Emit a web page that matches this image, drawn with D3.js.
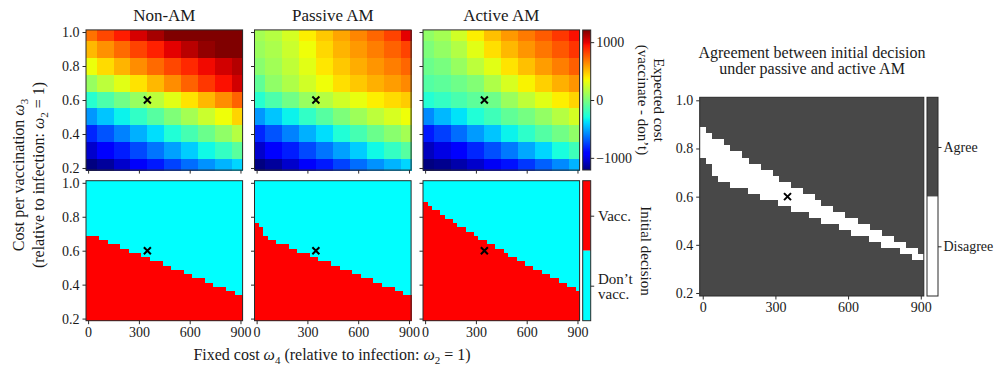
<!DOCTYPE html>
<html><head><meta charset="utf-8">
<script src="https://cdn.jsdelivr.net/npm/d3@7"></script>
<style>body{margin:0;background:#fff}svg{display:block}text{font-family:"Liberation Serif",serif;fill:#1a1a1a}</style>
</head><body>
<script>
// ---------- DATA ----------
const panelTitles = ["Non-AM", "Passive AM", "Active AM"];
const xTicks = [0, 300, 600, 900];
const yTicks = [0.2, 0.4, 0.6, 0.8, 1.0];
const costTicks = [-1000, 0, 1000];
// coarse grid of expected cost (vaccinate - don't)
const gridX = [0, 100, 200, 300, 400, 500, 600, 700, 800, 900];
const gridY = [1.0, 0.9, 0.8, 0.7, 0.6, 0.5, 0.4, 0.3, 0.2];
const costNonAM = [
  [700, 810, 920, 1030, 1130, 1230, 1300, 1350, 1400, 1400],
  [520, 620, 720, 820, 910, 1000, 1090, 1170, 1230, 1280],
  [330, 430, 530, 630, 720, 810, 890, 970, 1040, 1100],
  [80, 190, 300, 410, 520, 630, 740, 850, 950, 1040],
  [-250, -140, -30, 80, 190, 300, 410, 520, 630, 740],
  [-550, -440, -330, -220, -110, 10, 120, 230, 340, 450],
  [-820, -710, -600, -490, -380, -270, -160, -50, 60, 170],
  [-1050, -945, -840, -735, -630, -525, -420, -315, -210, -100],
  [-1250, -1150, -1050, -950, -850, -750, -650, -560, -480, -400]
];
const costPassive = [
  [120, 170, 260, 380, 480, 570, 650, 730, 820, 1000],
  [90, 140, 230, 340, 440, 530, 600, 670, 740, 820],
  [40, 110, 200, 300, 400, 480, 550, 610, 670, 730],
  [-80, 60, 150, 250, 340, 420, 480, 540, 590, 640],
  [-250, -140, -30, 80, 170, 250, 320, 380, 430, 470],
  [-550, -440, -330, -220, -110, 5, 100, 190, 270, 340],
  [-820, -710, -600, -490, -380, -270, -160, -50, 40, 120],
  [-1050, -945, -840, -735, -630, -525, -420, -315, -210, -110],
  [-1250, -1150, -1050, -950, -850, -750, -650, -560, -480, -400]
];
const costActive = [
  [60, 120, 250, 380, 500, 600, 680, 760, 850, 950],
  [5, 70, 160, 300, 420, 520, 610, 690, 770, 860],
  [-50, -10, 80, 190, 300, 410, 500, 590, 670, 750],
  [-120, -90, -40, 20, 150, 270, 370, 460, 540, 610],
  [-260, -210, -150, -90, -40, 90, 200, 300, 380, 450],
  [-580, -470, -370, -270, -180, -80, -20, 70, 170, 260],
  [-850, -760, -650, -540, -440, -330, -230, -120, -30, 60],
  [-1080, -1000, -920, -820, -720, -620, -510, -400, -290, -180],
  [-1230, -1180, -1120, -1050, -960, -870, -780, -680, -580, -480]
];
// decision grid columns and highest "vaccinate" cell per column
const decisionX = [0,25,50,75,100,125,150,175,200,225,250,275,300,325,350,375,400,425,450,475,500,525,550,575,600,625,650,675,700,725,750,775,800,825,850,875,900];
const vaccTopNonAM = [0.675,0.675,0.675,0.65,0.65,0.625,0.625,0.625,0.6,0.6,0.575,0.575,0.575,0.55,0.55,0.525,0.525,0.525,0.5,0.5,0.475,0.475,0.475,0.45,0.45,0.425,0.425,0.425,0.4,0.4,0.375,0.375,0.375,0.35,0.35,0.325,0.325];
const vaccTopPassive = [0.75,0.725,0.675,0.65,0.65,0.625,0.625,0.625,0.6,0.6,0.575,0.575,0.575,0.55,0.55,0.525,0.525,0.525,0.5,0.5,0.475,0.475,0.475,0.45,0.45,0.425,0.425,0.425,0.4,0.4,0.375,0.375,0.375,0.35,0.35,0.325,0.325];
const vaccTopActive = [0.875,0.85,0.825,0.825,0.8,0.775,0.775,0.75,0.725,0.725,0.7,0.7,0.675,0.65,0.65,0.625,0.625,0.6,0.6,0.575,0.55,0.55,0.525,0.525,0.5,0.5,0.475,0.475,0.45,0.45,0.425,0.425,0.4,0.4,0.375,0.375,0.35];
const markerX = [350];
const markerY = [0.6];

// ---------- SETUP ----------
const W = 997, H = 365;
const svg = d3.select("body").append("svg").attr("width", W).attr("height", H);
svg.append("rect").attr("width", W).attr("height", H).attr("fill", "#fff");

const xDom = [-12.5, 912.5], yDom = [0.1875, 1.0125];
const halfX = 12.5, halfY = 0.0125;
const lefts = [86, 254.5, 423], pw = 156.6;
const topY = d3.scaleLinear().domain(yDom).range([170.1, 29.9]);
const botY = d3.scaleLinear().domain(yDom).range([320.7, 180.7]);
const xScales = lefts.map(l => d3.scaleLinear().domain(xDom).range([l, l + pw]));

const vmax = 1210;
const tScale = d3.scaleLinear().domain([-vmax, vmax]).range([0, 1]).clamp(true);
const jr = d3.scaleLinear().domain([0, 0.35, 0.66, 0.89, 1]).range([0, 0, 1, 1, 0.5]).clamp(true);
const jg = d3.scaleLinear().domain([0, 0.125, 0.375, 0.64, 0.91, 1]).range([0, 0, 1, 1, 0, 0]).clamp(true);
const jb = d3.scaleLinear().domain([0, 0.11, 0.34, 0.65, 1]).range([0.5, 1, 1, 0, 0]).clamp(true);
const jet = t => d3.rgb(jr(t) * 255, jg(t) * 255, jb(t) * 255).toString();
const costColor = v => jet(tScale(v));

const RED = "#ff0000", CYAN = "#00ffff", DARK = "#484848", FRAME = "#2a2a2a";

function edges(arr, lo, hi) {
  const s = arr.slice().sort((a, b) => a - b);
  return s.map((v, i) => [i === 0 ? lo : (s[i - 1] + v) / 2, i === s.length - 1 ? hi : (v + s[i + 1]) / 2]);
}
const xEdges = edges(gridX, xDom[0], xDom[1]);
const yEdgesSorted = edges(gridY, yDom[0], yDom[1]);
const yEdge = v => yEdgesSorted[gridY.slice().sort((a, b) => a - b).indexOf(v)];

function styleAxis(g) {
  g.select(".domain").remove();
  g.selectAll(".tick line").attr("stroke", FRAME).attr("stroke-width", 1);
  g.selectAll(".tick text").attr("font-family", "Liberation Serif").attr("font-size", 14).attr("fill", "#1a1a1a");
}
function frame(x0, y0, w, h) {
  svg.append("rect").attr("x", x0).attr("y", y0).attr("width", w).attr("height", h)
    .attr("fill", "none").attr("stroke", FRAME).attr("stroke-width", 1);
}
function cross(xs, ys) {
  svg.append("g").selectAll("path").data(markerX).join("path")
    .attr("transform", (d, i) => `translate(${xs(d)},${ys(markerY[i])})`)
    .attr("d", "M-3.5,-3.5L3.5,3.5M-3.5,3.5L3.5,-3.5")
    .attr("stroke", "#000").attr("stroke-width", 2);
}

// ---------- TOP ROW: expected cost heatmaps ----------
const costData = [costNonAM, costPassive, costActive];
costData.forEach((grid, p) => {
  const xs = xScales[p];
  const cells = [];
  gridY.forEach((yv, r) => gridX.forEach((xv, c) => cells.push({ xv, yv, v: grid[r][c], c })));
  svg.append("g").attr("shape-rendering", "crispEdges").selectAll("rect").data(cells).join("rect")
    .attr("x", d => xs(xEdges[d.c][0]))
    .attr("width", d => xs(xEdges[d.c][1]) - xs(xEdges[d.c][0]) + 0.5)
    .attr("y", d => topY(yEdge(d.yv)[1]))
    .attr("height", d => topY(yEdge(d.yv)[0]) - topY(yEdge(d.yv)[1]) + 0.5)
    .attr("fill", d => costColor(d.v));
  frame(xs.range()[0], topY.range()[1], pw, topY.range()[0] - topY.range()[1]);
  cross(xs, topY);
  const ax = svg.append("g").attr("transform", `translate(${xs.range()[0]},0)`)
    .call(d3.axisLeft(topY).tickValues(yTicks).tickSize(3.5).tickSizeOuter(0).tickPadding(3)
      .tickFormat(p === 0 ? d3.format(".1f") : () => ""));
  styleAxis(ax);
  const bx = svg.append("g").attr("transform", `translate(0,${topY.range()[0]})`)
    .call(d3.axisBottom(xs).tickValues(xTicks).tickSize(3.5).tickSizeOuter(0).tickFormat(() => ""));
  styleAxis(bx);
  svg.append("text").attr("x", xs(450)).attr("y", 21).attr("text-anchor", "middle")
    .attr("font-size", 17).text(panelTitles[p]);
});

// ---------- BOTTOM ROW: initial decision ----------
const decData = [vaccTopNonAM, vaccTopPassive, vaccTopActive];
decData.forEach((tops, p) => {
  const xs = xScales[p];
  svg.append("rect").attr("x", xs.range()[0]).attr("y", botY.range()[1]).attr("width", pw)
    .attr("height", botY.range()[0] - botY.range()[1]).attr("fill", CYAN);
  svg.append("g").attr("shape-rendering", "crispEdges").selectAll("rect").data(decisionX).join("rect")
    .attr("x", d => xs(d - halfX))
    .attr("width", d => xs(d + halfX) - xs(d - halfX) + 0.4)
    .attr("y", (d, i) => botY(tops[i] + halfY))
    .attr("height", (d, i) => botY(yDom[0]) - botY(tops[i] + halfY))
    .attr("fill", RED);
  frame(xs.range()[0], botY.range()[1], pw, botY.range()[0] - botY.range()[1]);
  cross(xs, botY);
  const ax = svg.append("g").attr("transform", `translate(${xs.range()[0]},0)`)
    .call(d3.axisLeft(botY).tickValues(yTicks).tickSize(3.5).tickSizeOuter(0).tickPadding(3)
      .tickFormat(p === 0 ? d3.format(".1f") : () => ""));
  styleAxis(ax);
  const bx = svg.append("g").attr("transform", `translate(0,${botY.range()[0]})`)
    .call(d3.axisBottom(xs).tickValues(xTicks).tickSize(3.5).tickSizeOuter(0).tickPadding(3).tickFormat(d3.format("d")));
  styleAxis(bx);
});

// ---------- colorbar: expected cost ----------
const cbX = 582.7, cbW = 8;
const cbY = d3.scaleLinear().domain([-vmax, vmax]).range([170, 30]);
const defs = svg.append("defs");
const grad = defs.append("linearGradient").attr("id", "jetgrad").attr("x1", 0).attr("y1", 1).attr("x2", 0).attr("y2", 0);
grad.selectAll("stop").data(d3.range(0, 1.0001, 0.01)).join("stop")
  .attr("offset", d => d).attr("stop-color", d => jet(d));
svg.append("rect").attr("x", cbX).attr("y", 30).attr("width", cbW).attr("height", 140).attr("fill", "url(#jetgrad)");
frame(cbX, 30, cbW, 140);
styleAxis(svg.append("g").attr("transform", `translate(${cbX + cbW},0)`)
  .call(d3.axisRight(cbY).tickValues(costTicks).tickSize(3.5).tickPadding(2).tickFormat(d3.format("d"))));
const lab1 = svg.append("text").attr("transform", "translate(654,100) rotate(90)").attr("text-anchor", "middle").attr("font-size", 15);
lab1.text("Expected cost");
svg.append("text").attr("transform", "translate(638,100) rotate(90)").attr("text-anchor", "middle").attr("font-size", 15)
  .text("(vaccinate - don\u2019t)");

// ---------- colorbar: initial decision ----------
const dY = d3.scaleLinear().domain([0, 2]).range([320.7, 180.7]);
svg.append("rect").attr("x", cbX).attr("y", dY(2)).attr("width", cbW).attr("height", dY(1) - dY(2)).attr("fill", RED);
svg.append("rect").attr("x", cbX).attr("y", dY(1)).attr("width", cbW).attr("height", dY(0) - dY(1)).attr("fill", CYAN);
frame(cbX, dY(2), cbW, dY(0) - dY(2));
styleAxis(svg.append("g").attr("transform", `translate(${cbX + cbW},0)`)
  .call(d3.axisRight(dY).tickValues([0.5, 1.5]).tickSize(3.5).tickFormat(() => "")));
svg.append("text").attr("x", 598).attr("y", dY(1.5) + 5).attr("font-size", 15).text("Vacc.");
svg.append("text").attr("x", 598).attr("y", dY(0.5) - 2).attr("font-size", 15).text("Don\u2019t");
svg.append("text").attr("x", 598).attr("y", dY(0.5) + 13).attr("font-size", 15).text("vacc.");
svg.append("text").attr("transform", "translate(641,251) rotate(90)").attr("text-anchor", "middle").attr("font-size", 15)
  .text("Initial decision");

// ---------- shared axis labels ----------
const yl = svg.append("text").attr("transform", "translate(24,175) rotate(-90)").attr("text-anchor", "middle").attr("font-size", 16);
yl.append("tspan").text("Cost per vaccination ");
yl.append("tspan").attr("font-style", "italic").text("\u03c9");
yl.append("tspan").attr("font-size", 11).attr("dy", 4).text("3");
const yl2 = svg.append("text").attr("transform", "translate(44,175) rotate(-90)").attr("text-anchor", "middle").attr("font-size", 16);
yl2.append("tspan").text("(relative to infection: ");
yl2.append("tspan").attr("font-style", "italic").text("\u03c9");
yl2.append("tspan").attr("font-size", 11).attr("dy", 4).text("2");
yl2.append("tspan").attr("dy", -4).text(" = 1)");
const xl = svg.append("text").attr("x", 332).attr("y", 360).attr("text-anchor", "middle").attr("font-size", 16);
xl.append("tspan").text("Fixed cost ");
xl.append("tspan").attr("font-style", "italic").text("\u03c9");
xl.append("tspan").attr("font-size", 11).attr("dy", 4).text("4");
xl.append("tspan").attr("dy", -4).text(" (relative to infection: ");
xl.append("tspan").attr("font-style", "italic").text("\u03c9");
xl.append("tspan").attr("font-size", 11).attr("dy", 4).text("2");
xl.append("tspan").attr("dy", -4).text(" = 1)");

// ---------- agreement panel ----------
const ax0 = 699.7, ax1 = 923.8;
const axs = d3.scaleLinear().domain(xDom).range([ax0, ax1]);
const ays = d3.scaleLinear().domain(yDom).range([296, 97.3]);
svg.append("rect").attr("x", ax0).attr("y", 97.3).attr("width", ax1 - ax0).attr("height", 296 - 97.3).attr("fill", DARK);
const disagree = decisionX.map((x, i) => ({ x, lo: Math.min(vaccTopPassive[i], vaccTopActive[i]), hi: Math.max(vaccTopPassive[i], vaccTopActive[i]) }))
  .filter(d => d.hi > d.lo);
svg.append("g").attr("shape-rendering", "crispEdges").selectAll("rect").data(disagree).join("rect")
  .attr("x", d => axs(d.x - halfX)).attr("width", d => axs(d.x + halfX) - axs(d.x - halfX) + 0.4)
  .attr("y", d => ays(d.hi + halfY)).attr("height", d => ays(d.lo + halfY) - ays(d.hi + halfY))
  .attr("fill", "#fff");
frame(ax0, 97.3, ax1 - ax0, 296 - 97.3);
cross(axs, ays);
styleAxis(svg.append("g").attr("transform", `translate(${ax0},0)`)
  .call(d3.axisLeft(ays).tickValues(yTicks).tickSize(3.5).tickSizeOuter(0).tickPadding(3).tickFormat(d3.format(".1f"))));
styleAxis(svg.append("g").attr("transform", "translate(0,296)")
  .call(d3.axisBottom(axs).tickValues(xTicks).tickSize(3.5).tickSizeOuter(0).tickPadding(3).tickFormat(d3.format("d"))));
svg.append("text").attr("x", 812).attr("y", 58).attr("text-anchor", "middle").attr("font-size", 16)
  .text("Agreement between initial decision");
svg.append("text").attr("x", 812).attr("y", 74).attr("text-anchor", "middle").attr("font-size", 16)
  .text("under passive and active AM");
// agreement colorbar
const gY = d3.scaleLinear().domain([0, 2]).range([296, 97.3]);
const gX = 927, gW = 11;
svg.append("rect").attr("x", gX).attr("y", gY(2)).attr("width", gW).attr("height", gY(1) - gY(2)).attr("fill", DARK);
svg.append("rect").attr("x", gX).attr("y", gY(1)).attr("width", gW).attr("height", gY(0) - gY(1)).attr("fill", "#fff");
frame(gX, gY(2), gW, gY(0) - gY(2));
styleAxis(svg.append("g").attr("transform", `translate(${gX + gW},0)`)
  .call(d3.axisRight(gY).tickValues([0.5, 1.5]).tickSize(3.5).tickPadding(2)
    .tickFormat(d => d > 1 ? "Agree" : "Disagree")));
</script>
</body></html>
